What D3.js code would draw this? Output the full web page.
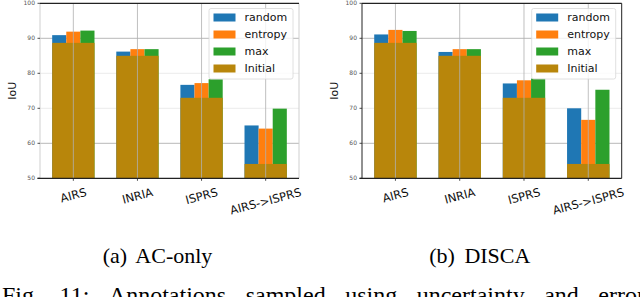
<!DOCTYPE html>
<html>
<head>
<meta charset="utf-8">
<script src="https://cdn.jsdelivr.net/npm/d3@7"></script>
<style>
  body { margin: 0; background: #fff; }
  svg { display: block; }
</style>
</head>
<body>
<svg width="640" height="297"></svg>
<script>
// values (IoU, %)
const categories = ["AIRS", "INRIA", "ISPRS", "AIRS->ISPRS"];
const seriesNames = ["random", "entropy", "max"];
const initial = [88.7, 85.0, 73.0, 54.1];
const acRandom = [90.9, 86.2, 76.7, 65.1];
const acEntropy = [91.9, 86.9, 77.2, 64.2];
const acMax = [92.2, 86.9, 78.3, 69.9];
const discaRandom = [91.1, 86.1, 77.1, 70.0];
const discaEntropy = [92.4, 86.9, 78.0, 66.7];
const discaMax = [92.1, 86.9, 78.5, 75.3];
const yTicks = [50, 60, 70, 80, 90, 100];
const captions = ["(a) AC-only", "(b) DISCA"];
const figWords = ["Fig.", "11:", "Annotations", "sampled", "using", "uncertainty", "and", "error"];

const colors = {random: "#1f77b4", entropy: "#ff7f0e", max: "#2ca02c", Initial: "#b8860b"};

const svg = d3.select("svg");

const panels = [
  {x0: 40, x1: 299, series: [acRandom, acEntropy, acMax], caption: captions[0], side: "#cfcfcf"},
  {x0: 362, x1: 621.7, series: [discaRandom, discaEntropy, discaMax], caption: captions[1], side: "#222"}
];

const yTop = 3.3, yBot = 178.3;
const barW = 0.22;

panels.forEach(function(p) {
    const x = d3.scaleLinear().domain([-0.52, 3.52]).range([p.x0, p.x1]);
    const y = d3.scaleLinear().domain([50, 100]).range([yBot, yTop]);
    const g = svg.append("g");

    // horizontal grid (behind bars)
    g.append("g")
      .selectAll("line")
      .data(yTicks.slice(1, -1))
      .join("line")
        .attr("x1", p.x0).attr("x2", p.x1)
        .attr("y1", d => y(d)).attr("y2", d => y(d))
        .attr("stroke", d => (d == 90 || d == 60) ? "#b8b8b8" : "#ececec")
        .attr("stroke-width", 1);

    // method bars
    seriesNames.forEach(function(name, k) {
        g.append("g")
          .selectAll("rect")
          .data(p.series[k])
          .join("rect")
            .attr("x", (d, i) => x(i + (k - 1) * barW - barW / 2))
            .attr("width", x(barW) - x(0))
            .attr("y", d => y(d))
            .attr("height", d => y(50) - y(d))
            .attr("fill", colors[name]);
    });

    // initial bars on top
    g.append("g")
      .selectAll("rect")
      .data(initial)
      .join("rect")
        .attr("x", (d, i) => x(i - 1.5 * barW))
        .attr("width", x(3 * barW) - x(0))
        .attr("y", d => y(d))
        .attr("height", d => y(50) - y(d))
        .attr("fill", colors.Initial);

    // vertical grid
    g.append("g")
      .selectAll("line")
      .data(categories)
      .join("line")
        .attr("x1", (d, i) => x(i)).attr("x2", (d, i) => x(i))
        .attr("y1", yTop).attr("y2", yBot)
        .attr("stroke", "#b0b0b0")
        .attr("stroke-opacity", 0.8)
        .attr("stroke-width", 1);

    // spines
    g.append("line").attr("x1", p.x0).attr("x2", p.x0).attr("y1", yTop).attr("y2", yBot)
        .attr("stroke", p.side).attr("stroke-width", 1);
    g.append("line").attr("x1", p.x1).attr("x2", p.x1).attr("y1", yTop).attr("y2", yBot)
        .attr("stroke", p.side).attr("stroke-width", 1);
    g.append("line").attr("x1", p.x0).attr("x2", p.x1).attr("y1", yTop).attr("y2", yTop)
        .attr("stroke", "#222").attr("stroke-width", 1.2);
    g.append("line").attr("x1", p.x0 - 2.5).attr("x2", p.x1).attr("y1", yBot).attr("y2", yBot)
        .attr("stroke", "#222").attr("stroke-width", 1.2);

    // y ticks
    const yt = g.append("g").selectAll("g").data(yTicks).join("g")
        .attr("transform", d => `translate(${p.x0},${y(d)})`);
    yt.append("line").attr("x1", -2.5).attr("x2", 0).attr("stroke", "#222").attr("stroke-width", 0.8);
    yt.append("text")
        .attr("x", -5)
        .attr("dy", "0.35em")
        .attr("text-anchor", "end")
        .attr("font-family", "DejaVu Sans")
        .attr("font-size", 6)
        .attr("fill", "#555")
        .text(d => d);

    // y label
    g.append("text")
        .attr("transform", `translate(${p.x0 - 24},${(yTop + yBot) / 2}) rotate(-90)`)
        .attr("text-anchor", "middle")
        .attr("font-family", "DejaVu Sans")
        .attr("font-size", 11)
        .attr("fill", "#111")
        .text("IoU");

    // x tick marks + rotated labels
    g.append("g").selectAll("line").data(categories).join("line")
        .attr("x1", (d, i) => x(i)).attr("x2", (d, i) => x(i))
        .attr("y1", yBot).attr("y2", yBot + 2.5)
        .attr("stroke", "#222").attr("stroke-width", 0.8);

    const ang = 15 * Math.PI / 180;
    g.append("g").selectAll("text").data(categories).join("text")
        .attr("font-family", "DejaVu Sans")
        .attr("font-size", 11.5)
        .attr("fill", "#111")
        .attr("text-anchor", "middle")
        .attr("dominant-baseline", "central")
        .text(d => d)
        .attr("transform", function(d, i) {
            const L = this.getComputedTextLength();
            const h = 13;
            const half = (L * Math.sin(ang) + h * Math.cos(ang)) / 2;
            return `translate(${x(i)},${185.5 + half}) rotate(-15)`;
        });

    // legend
    const lx = p.x1 - 90, ly = 8.5;
    const leg = g.append("g").attr("transform", `translate(${lx},${ly})`);
    leg.append("rect")
        .attr("width", 84).attr("height", 70.5).attr("rx", 2)
        .attr("fill", "#fff").attr("fill-opacity", 0.8)
        .attr("stroke", "#d8d8d8").attr("stroke-width", 0.8);
    const items = seriesNames.concat(["Initial"]);
    const row = leg.selectAll("g").data(items).join("g")
        .attr("transform", (d, i) => `translate(0,${9 + i * 17})`);
    row.append("rect")
        .attr("x", 4.5).attr("y", -4).attr("width", 22).attr("height", 8)
        .attr("fill", d => colors[d]);
    row.append("text")
        .attr("x", 35.5).attr("dy", "0.35em")
        .attr("font-family", "DejaVu Sans")
        .attr("font-size", 11)
        .attr("fill", "#111")
        .text(d => d);

    // sub caption
    svg.append("text")
        .attr("x", (p.x0 + p.x1) / 2 - 12)
        .attr("y", 263)
        .attr("text-anchor", "middle")
        .attr("font-family", "Liberation Serif")
        .attr("font-size", 22)
        .attr("word-spacing", 4)
        .attr("fill", "#000")
        .text(p.caption);
});

// figure caption line, justified and cut off by the bottom edge
const fig = svg.append("g")
    .attr("font-family", "Liberation Serif")
    .attr("font-size", 24)
    .attr("fill", "#000");
const wt = fig.selectAll("text").data(figWords).join("text").attr("y", 303).text(d => d);
const widths = [];
wt.each(function() { widths.push(this.getComputedTextLength()); });
const lineEnd = 645, lineStart = 2;
const gap = (lineEnd - lineStart - d3.sum(widths)) / (figWords.length - 1);
let cx = lineStart;
wt.attr("x", function(d, i) { const v = cx; cx += widths[i] + gap; return v; });
</script>
</body>
</html>
